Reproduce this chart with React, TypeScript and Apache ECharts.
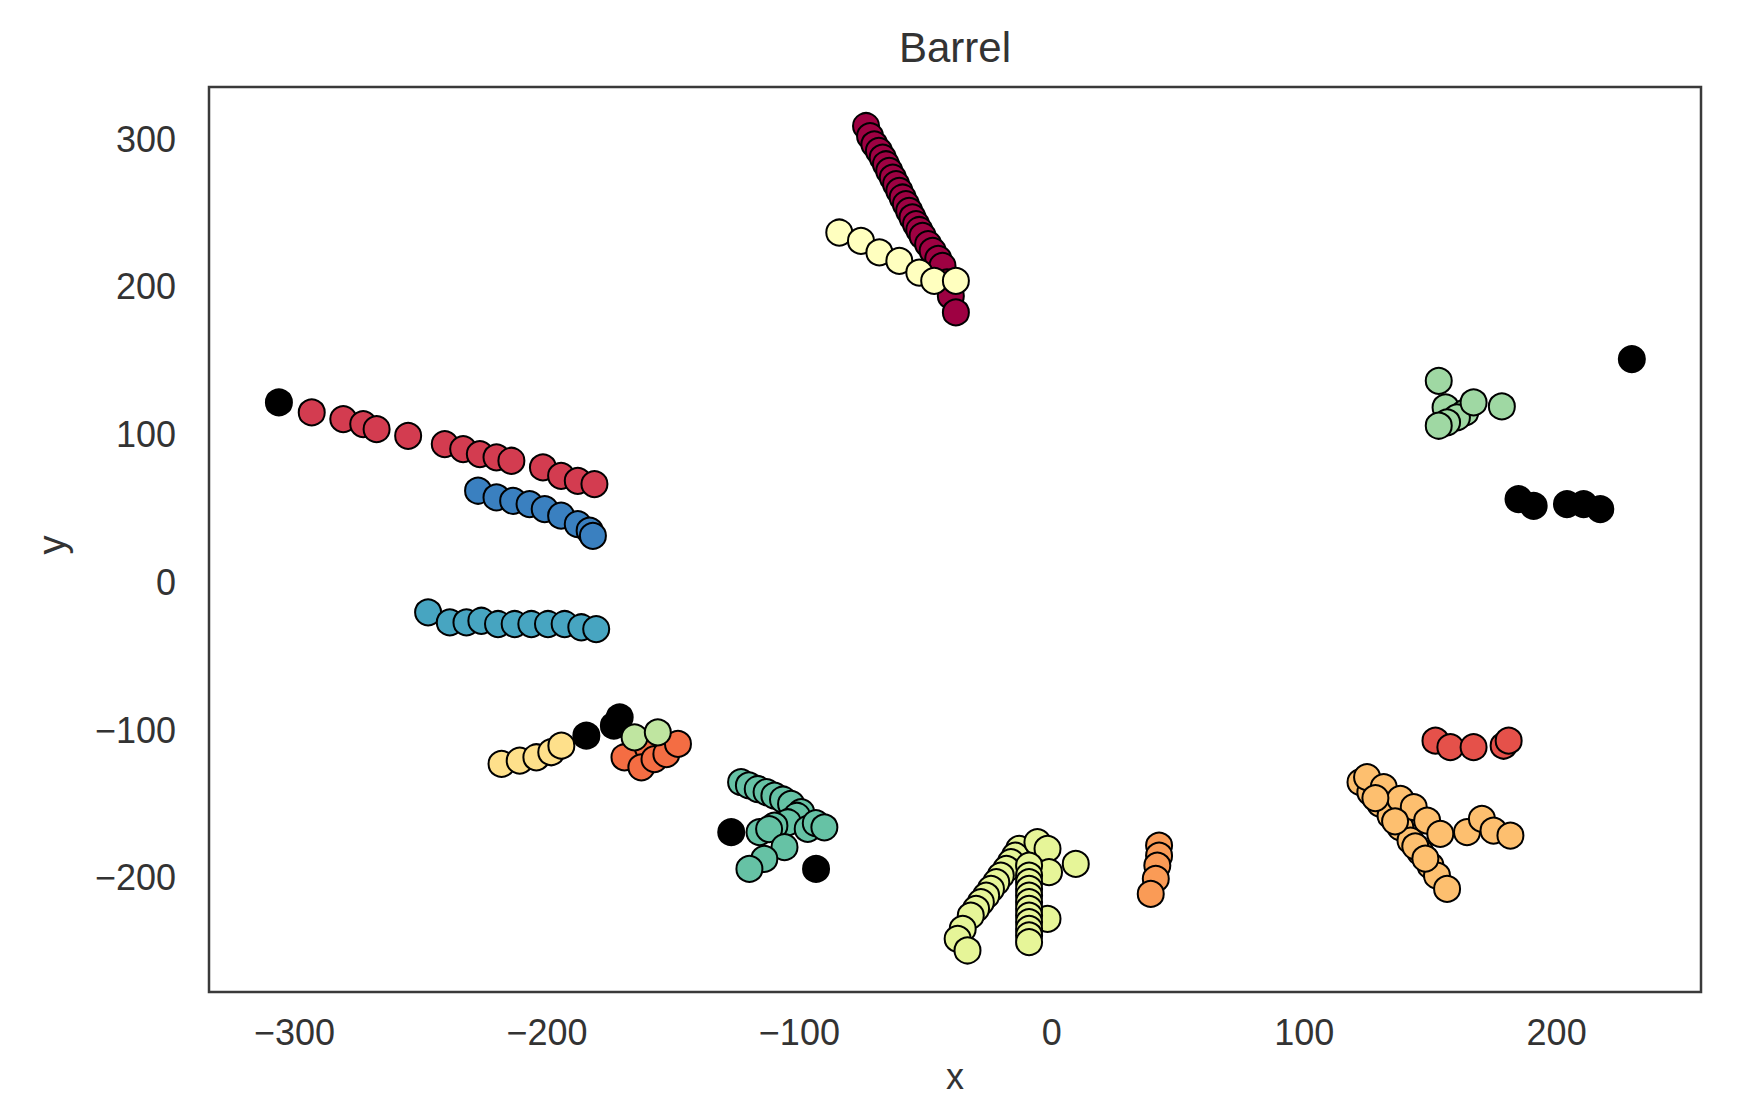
import React, { useEffect, useRef } from "react";
import * as echarts from "echarts";

type Pt = [number, number];

const X_TICKS = [-300, -200, -100, 0, 100, 200];
const Y_TICKS = [-200, -100, 0, 100, 200, 300];
const X_RANGE: [number, number] = [-333.9, 257.2];
const Y_RANGE: [number, number] = [-277.3, 335.3];

const maroon: Pt[] = [
  [-73.6, 308.9], [-72, 302], [-70.3, 296.5], [-68.5, 292], [-67.0, 287.5], [-65.7, 283],
  [-64.4, 278.5], [-63, 274], [-61.7, 269.5], [-60.4, 265], [-59.1, 260.5], [-57.8, 256],
  [-56.5, 251.4], [-55.2, 247], [-53.8, 242.4], [-52.5, 238.5], [-51.2, 234.5], [-49, 229],
  [-47.2, 224.4], [-45, 219], [-43.3, 214.2], [-41.5, 203], [-40.0, 193.9], [-38.0, 182.7],
];
const crimson: Pt[] = [
  [-293.2, 115.0], [-280.7, 110.5], [-272.8, 107.1], [-267.5, 103.7], [-255, 99.2],
  [-240.5, 93.6], [-233.2, 90.2], [-226.6, 86.8], [-220, 84.6], [-214.1, 82.3],
  [-201.6, 77.8], [-194.4, 72.1], [-187.8, 68.7], [-181.2, 66.5],
];
const redRight: Pt[] = [
  [152.0, -107.2], [157.9, -111.6], [167.1, -111.6], [179, -110.6], [181.0, -107.2],
];
const orangeRed: Pt[] = [
  [-169.3, -118.4], [-160, -112], [-162.6, -125.2], [-157.4, -119.6], [-152.7, -116.2], [-148.1, -109.4],
];
const orange: Pt[] = [
  [42.5, -178.2], [42.5, -185.0], [41.8, -191.7], [41.2, -200.7], [39.2, -210.9],
];
const lightOrange: Pt[] = [
  [122.3, -135.3], [126.2, -142.1], [130.2, -150.0], [134.2, -157.9], [138.1, -165.8],
  [142.1, -174.8], [146.0, -182.7], [150.0, -191.7], [152.6, -198.5], [156.6, -207.5],
  [124.9, -131.9], [131.5, -138.7], [138.1, -146.6], [143.4, -152.2], [148.7, -161.3],
  [153.9, -170.3], [164.5, -169.1], [170.4, -160.1], [175.0, -168.0], [181.7, -171.4],
  [128.2, -146], [136, -161.8], [144, -178.7], [148, -187],
];
const yellow: Pt[] = [
  [-218.0, -122.9], [-210.8, -120.7], [-204.2, -118.4], [-198.3, -115.0], [-194.3, -110.6],
];
const paleYellow: Pt[] = [
  [-84.2, 236.8], [-75.6, 231.1], [-68.3, 223.3], [-60.4, 217.6], [-52.5, 209.7],
  [-46.6, 204.1], [-38.0, 204.1],
];
const yellowGreen: Pt[] = [
  [-12.9, -180.4], [-14.5, -185], [-16.2, -189.4], [-18, -194], [-20.2, -198.5], [-22, -203],
  [-24.1, -207.5], [-26, -212], [-28.1, -216.5], [-30, -221], [-32.1, -225.6], [-35.3, -234.6],
  [-37.3, -241.3], [-33.4, -249.2],
  [-5.7, -175.9], [-1.7, -180.4], [9.5, -190.6], [-1.1, -196.2], [-1.7, -227.8],
  [-9.0, -191.7], [-9.0, -198.5], [-9.0, -203], [-9.0, -207.5], [-9.0, -212], [-9.0, -216.5],
  [-9.0, -221], [-9.0, -225.6], [-9.0, -230], [-9.0, -234.6], [-9.0, -239], [-9.0, -243.6],
];
const lightGreenLeft: Pt[] = [[-165.3, -104.9], [-156.1, -101.5]];
const lightGreenRight: Pt[] = [
  [153.3, 136.4], [156, 118.4], [163.8, 115.0], [160.5, 111.6], [156.6, 108.3],
  [153.3, 106.0], [167.1, 121.8], [178.3, 119.1],
];
const teal: Pt[] = [
  [-123.1, -135.3], [-120, -137.5], [-116.5, -139.9], [-113, -142], [-109.9, -144.4],
  [-106.5, -147], [-103.3, -150.0], [-99.3, -155.6], [-101, -158], [-104.6, -162.4],
  [-109.9, -164.7], [-96.7, -166.9], [-93.5, -163], [-90.1, -165.8], [-115.8, -169.1],
  [-112, -167], [-105.9, -179.3], [-113.9, -187.2], [-119.8, -194.0],
];
const cyan: Pt[] = [
  [-247.1, -20.3], [-238.5, -27.1], [-231.9, -27.1], [-226, -26], [-219.4, -28.2],
  [-212.8, -28.2], [-206.2, -28.2], [-199.6, -28.2], [-193, -28.2], [-186.4, -30.4], [-180.5, -31.6],
];
const blue: Pt[] = [
  [-227.3, 62.0], [-220, 57.5], [-213.4, 55.2], [-206.9, 53], [-200.9, 49.6],
  [-194.4, 45.1], [-187.8, 39.4], [-183.1, 35], [-181.8, 31.5],
];
const noise: Pt[] = [
  [-306.2, 121.8], [-184.4, -103.8], [-173.5, -97], [-171.2, -91.4], [-127.0, -169.1],
  [-93.4, -194.0], [229.8, 151.1], [184.9, 56.4], [190.9, 51.8], [204.1, 53.0],
  [210.7, 53.0], [217.3, 49.6],
];

const clusters: { data: Pt[]; color: string }[] = [
  { data: maroon, color: "#9e0142" },
  { data: crimson, color: "#d33c50" },
  { data: redRight, color: "#e5514a" },
  { data: noise, color: "#000000" },
  { data: orangeRed, color: "#f46d43" },
  { data: orange, color: "#fa9b56" },
  { data: lightOrange, color: "#fdbf6f" },
  { data: yellow, color: "#fee08b" },
  { data: paleYellow, color: "#ffffbf" },
  { data: yellowGreen, color: "#e6f598" },
  { data: lightGreenLeft, color: "#bfe5a0" },
  { data: lightGreenRight, color: "#9fd8a3" },
  { data: teal, color: "#66c2a5" },
  { data: cyan, color: "#47a5c1" },
  { data: blue, color: "#3a80c0" },
];

const FONT = "'Liberation Sans', Arial, Helvetica, sans-serif";
const TXT = "#333333";
const fmt = (v: number) => (v < 0 ? "\u2212" + Math.abs(v) : String(v));

export default function App() {
  const ref = useRef<HTMLDivElement>(null);
  useEffect(() => {
    if (!ref.current) return;
    const chart = echarts.init(ref.current, undefined, { renderer: "svg" });
    chart.setOption({
      animation: false,
      backgroundColor: "#ffffff",
      grid: {
        left: 209,
        right: 41,
        top: 87,
        bottom: 103,
        show: true,
        borderColor: "#3a3a3a",
        borderWidth: 2.5,
        backgroundColor: "transparent",
      },
      xAxis: {
        type: "value",
        min: X_RANGE[0],
        max: X_RANGE[1],
        axisLine: { show: false },
        axisTick: { show: false },
        splitLine: { show: false },
        axisLabel: {
          customValues: X_TICKS,
          formatter: fmt,
          fontSize: 36,
          fontFamily: FONT,
          color: TXT,
          margin: 22,
        },
      },
      yAxis: {
        type: "value",
        min: Y_RANGE[0],
        max: Y_RANGE[1],
        axisLine: { show: false },
        axisTick: { show: false },
        splitLine: { show: false },
        axisLabel: {
          customValues: Y_TICKS,
          formatter: fmt,
          fontSize: 36,
          fontFamily: FONT,
          color: TXT,
          margin: 33,
        },
      },
      graphic: [
        {
          type: "text",
          x: 955,
          y: 47,
          style: {
            text: "Barrel",
            fontSize: 42,
            fontFamily: FONT,
            fill: TXT,
            align: "center",
            verticalAlign: "middle",
            textAlign: "center",
            textVerticalAlign: "middle",
          },
        },
        {
          type: "text",
          x: 955,
          y: 1076,
          style: {
            text: "x",
            fontSize: 36,
            fontFamily: FONT,
            fill: TXT,
            align: "center",
            verticalAlign: "middle",
            textAlign: "center",
            textVerticalAlign: "middle",
          },
        },
        {
          type: "text",
          x: 52,
          y: 545,
          rotation: Math.PI / 2,
          style: {
            text: "y",
            fontSize: 38,
            fontFamily: FONT,
            fill: TXT,
            align: "center",
            verticalAlign: "middle",
            textAlign: "center",
            textVerticalAlign: "middle",
          },
        },
      ],
      series: clusters.map((c) => ({
        type: "scatter",
        data: c.data,
        symbol: "circle",
        symbolSize: 26,
        itemStyle: {
          color: c.color,
          borderColor: "#000000",
          borderWidth: 2,
          opacity: 1,
        },
        emphasis: { disabled: true },
      })),
    });
    return () => chart.dispose();
  }, []);
  return (
    <div
      ref={ref}
      style={{ position: "fixed", left: 0, top: 0, width: 1742, height: 1095, background: "#fff" }}
    />
  );
}
